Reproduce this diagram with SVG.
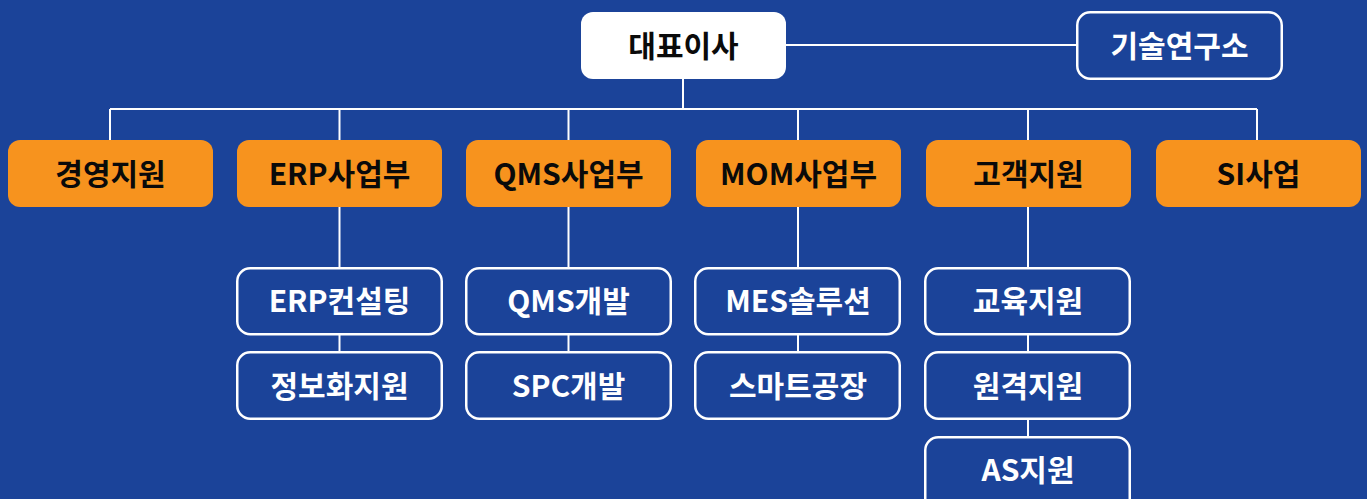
<svg xmlns="http://www.w3.org/2000/svg" width="1367" height="499" viewBox="0 0 1367 499">
<style>
.bg{fill:#1B4399}
.top{fill:#FFFFFF}
.org{fill:#F7931E}
.sub{fill:#1B4399;stroke:#FFFFFF;stroke-width:2.5}
.line{stroke:#FFFFFF;stroke-width:2;fill:none}
text{font-family:"Noto Sans CJK KR","Noto Sans",sans-serif;font-weight:bold;font-size:30px;text-anchor:middle}
.dk{fill:#0A0A0A}
.wt{fill:#FFFFFF}
</style>
<rect class="bg" x="0" y="0" width="1367" height="499"/>
<g id="connectors">
<line class="line" x1="785" y1="45" x2="1077" y2="45"/>
<line class="line" x1="683" y1="78" x2="683" y2="109"/>
<line class="line" x1="110" y1="109" x2="1257" y2="109"/>
<line class="line" x1="110" y1="109" x2="110" y2="140"/>
<line class="line" x1="339.5" y1="109" x2="339.5" y2="140"/>
<line class="line" x1="568.5" y1="109" x2="568.5" y2="140"/>
<line class="line" x1="798" y1="109" x2="798" y2="140"/>
<line class="line" x1="1028" y1="109" x2="1028" y2="140"/>
<line class="line" x1="1257" y1="109" x2="1257" y2="140"/>
<line class="line" x1="339.5" y1="207" x2="339.5" y2="268"/>
<line class="line" x1="339.5" y1="334" x2="339.5" y2="352"/>
<line class="line" x1="568.5" y1="207" x2="568.5" y2="268"/>
<line class="line" x1="568.5" y1="334" x2="568.5" y2="352"/>
<line class="line" x1="798" y1="207" x2="798" y2="268"/>
<line class="line" x1="798" y1="334" x2="798" y2="352"/>
<line class="line" x1="1028" y1="207" x2="1028" y2="268"/>
<line class="line" x1="1028" y1="334" x2="1028" y2="352"/>
<line class="line" x1="1028" y1="419" x2="1028" y2="437"/>
</g>
<g id="ceo"><rect class="top" x="581" y="12" width="205" height="67" rx="12"/><text class="dk" x="683.5" y="56.5">대표이사</text></g>
<g id="lab"><rect class="sub" x="1077.25" y="12.25" width="204.5" height="66.5" rx="13"/><text class="wt" x="1179.5" y="56.5">기술연구소</text></g>
<g id="d1"><rect class="org" x="8" y="140" width="205" height="67" rx="12"/><text class="dk" x="110.5" y="184.5">경영지원</text></g>
<g id="d2"><rect class="org" x="237" y="140" width="205" height="67" rx="12"/><text class="dk" x="339.5" y="184.5">ERP사업부</text></g>
<g id="d3"><rect class="org" x="466" y="140" width="205" height="67" rx="12"/><text class="dk" x="568.5" y="184.5">QMS사업부</text></g>
<g id="d4"><rect class="org" x="696" y="140" width="205" height="67" rx="12"/><text class="dk" x="798.5" y="184.5">MOM사업부</text></g>
<g id="d5"><rect class="org" x="926" y="140" width="205" height="67" rx="12"/><text class="dk" x="1028.5" y="184.5">고객지원</text></g>
<g id="d6"><rect class="org" x="1156" y="140" width="205" height="67" rx="12"/><text class="dk" x="1258.5" y="184.5">SI사업</text></g>
<g id="s1"><rect class="sub" x="237.25" y="268.25" width="204.5" height="66" rx="13"/><text class="wt" x="339.5" y="312">ERP컨설팅</text></g>
<g id="s2"><rect class="sub" x="237.25" y="352.25" width="204.5" height="66.5" rx="13"/><text class="wt" x="339.5" y="396.5">정보화지원</text></g>
<g id="s3"><rect class="sub" x="466.25" y="268.25" width="204.5" height="66" rx="13"/><text class="wt" x="568.5" y="312">QMS개발</text></g>
<g id="s4"><rect class="sub" x="466.25" y="352.25" width="204.5" height="66.5" rx="13"/><text class="wt" x="568.5" y="396.5">SPC개발</text></g>
<g id="s5"><rect class="sub" x="695.25" y="268.25" width="204.5" height="66" rx="13"/><text class="wt" x="798" y="312">MES솔루션</text></g>
<g id="s6"><rect class="sub" x="695.25" y="352.25" width="204.5" height="66.5" rx="13"/><text class="wt" x="798" y="396.5">스마트공장</text></g>
<g id="s7"><rect class="sub" x="925.25" y="268.25" width="204.5" height="66" rx="13"/><text class="wt" x="1028" y="312">교육지원</text></g>
<g id="s8"><rect class="sub" x="925.25" y="352.25" width="204.5" height="66.5" rx="13"/><text class="wt" x="1028" y="396.5">원격지원</text></g>
<g id="s9"><rect class="sub" x="925.25" y="437.25" width="204.5" height="80" rx="13"/><text class="wt" x="1028" y="481">AS지원</text></g>
</svg>
